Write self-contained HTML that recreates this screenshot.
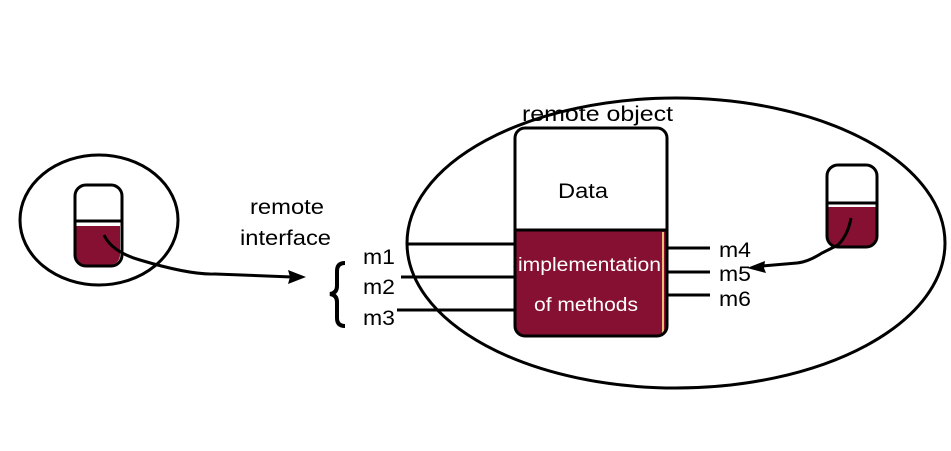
<!DOCTYPE html>
<html><head><meta charset="utf-8"><style>
body{margin:0;background:#fff}
svg{display:block}
text{font-family:"Liberation Sans",sans-serif;fill:#000}
</style></head><body>
<svg width="951" height="451" viewBox="0 0 951 451" xmlns="http://www.w3.org/2000/svg">
<rect width="951" height="451" fill="#fff"/>
<ellipse cx="676" cy="243" rx="269" ry="145" fill="none" stroke="#000" stroke-width="3"/>
<ellipse cx="99" cy="220" rx="79" ry="65" fill="none" stroke="#000" stroke-width="3"/>
<path d="M76,226 H120 V255 a10,10 0 0 1 -10,10 H86 a10,10 0 0 1 -10,-10 Z" fill="#861031"/>
<rect x="75" y="185" width="47" height="81" rx="11" fill="none" stroke="#000" stroke-width="3"/>
<line x1="75" y1="221" x2="122" y2="221" stroke="#000" stroke-width="3"/>
<path d="M104,235 Q112,252 140,260 Q190,275 215,274 L292,277" fill="none" stroke="#000" stroke-width="3"/>
<polygon points="306,277 288,270 290,277 288,284" fill="#000"/>
<path d="M828,207 H876 V237 a10,10 0 0 1 -10,10 H838 a10,10 0 0 1 -10,-10 Z" fill="#861031"/>
<rect x="827" y="165" width="50" height="82" rx="11" fill="none" stroke="#000" stroke-width="3"/>
<line x1="827" y1="203" x2="877" y2="203" stroke="#000" stroke-width="3"/>
<path d="M851,218 Q848,235 838,245 L822,253 Q808,262 797,263 L762,266" fill="none" stroke="#000" stroke-width="3"/>
<polygon points="747,268 765,261 764,268 766,273" fill="#000"/>
<path d="M516,231 H666 V326 a9,9 0 0 1 -9,9 H525 a9,9 0 0 1 -9,-9 Z" fill="#861031"/>
<line x1="663" y1="232" x2="663" y2="333" stroke="#e8c07a" stroke-width="2"/>
<rect x="515" y="128" width="152" height="208" rx="10" fill="none" stroke="#000" stroke-width="3"/>
<line x1="515" y1="230" x2="667" y2="230" stroke="#000" stroke-width="3"/>
<text x="522" y="121" font-size="21" textLength="151" lengthAdjust="spacingAndGlyphs">remote  object</text>
<text x="558" y="198" font-size="21" textLength="50" lengthAdjust="spacingAndGlyphs">Data</text>
<text x="518" y="271" font-size="19" textLength="143" lengthAdjust="spacingAndGlyphs" style="fill:#fff">implementation</text>
<text x="534" y="311" font-size="19" textLength="104" lengthAdjust="spacingAndGlyphs" style="fill:#fff">of methods</text>
<g stroke="#000" stroke-width="3">
<line x1="408" y1="244" x2="515" y2="244"/>
<line x1="401" y1="277" x2="515" y2="277"/>
<line x1="397" y1="310" x2="515" y2="310"/>
<line x1="667" y1="248" x2="710" y2="248"/>
<line x1="667" y1="272" x2="710" y2="272"/>
<line x1="667" y1="295" x2="710" y2="295"/>
</g>
<g font-size="21">
<text x="363" y="264" textLength="32" lengthAdjust="spacingAndGlyphs">m1</text>
<text x="363" y="294" textLength="32" lengthAdjust="spacingAndGlyphs">m2</text>
<text x="363" y="325" textLength="32" lengthAdjust="spacingAndGlyphs">m3</text>
<text x="719" y="257" textLength="32" lengthAdjust="spacingAndGlyphs">m4</text>
<text x="719" y="281" textLength="32" lengthAdjust="spacingAndGlyphs">m5</text>
<text x="719" y="306" textLength="32" lengthAdjust="spacingAndGlyphs">m6</text>
</g>
<text x="250" y="214" font-size="21" textLength="74" lengthAdjust="spacingAndGlyphs">remote</text>
<text x="240" y="245" font-size="21" textLength="91" lengthAdjust="spacingAndGlyphs">interface</text>
<path d="M345,263 Q337,263 337,271 L337,286 Q337,293 330,294 Q337,295 337,302 L337,318 Q337,326 345,326" fill="none" stroke="#000" stroke-width="4"/>
</svg>
</body></html>
